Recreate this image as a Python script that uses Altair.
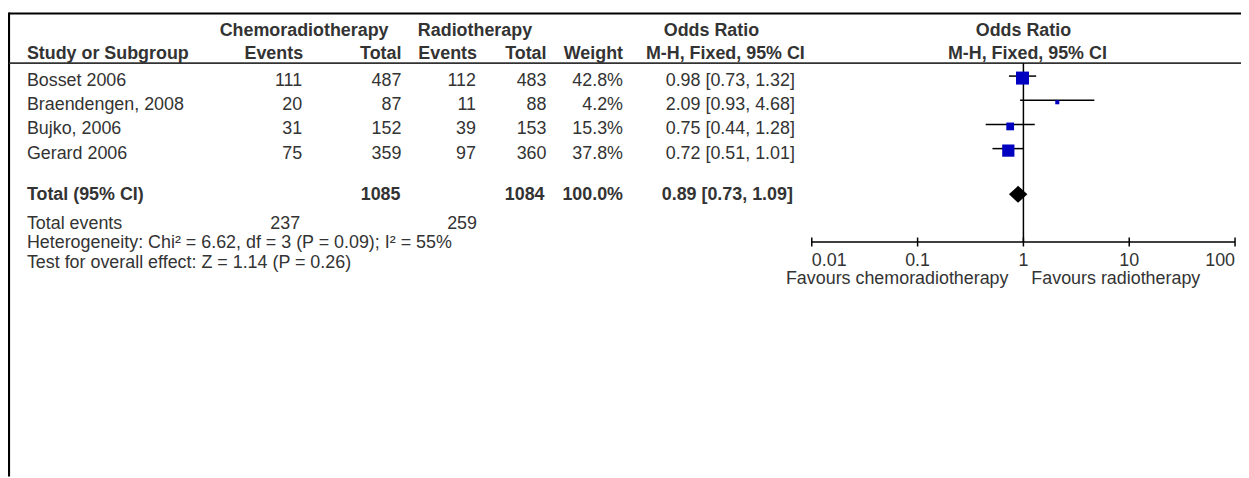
import altair as alt
import pandas as pd

# ---------------- data ----------------
studies = ["Bosset 2006", "Braendengen, 2008", "Bujko, 2006", "Gerard 2006"]
chemo_events = [111, 20, 31, 75]
chemo_total = [487, 87, 152, 359]
radio_events = [112, 11, 39, 97]
radio_total = [483, 88, 153, 360]
weights = [42.8, 4.2, 15.3, 37.8]
or_est = [0.98, 2.09, 0.75, 0.72]
ci_low = [0.73, 0.93, 0.44, 0.51]
ci_high = [1.32, 4.68, 1.28, 1.01]

total_label = "Total (95% CI)"
total_chemo = 1085
total_radio = 1084
total_weight = 100.0
total_or = 0.89
total_low = 0.73
total_high = 1.09
events_label = "Total events"
events_chemo = 237
events_radio = 259
heterogeneity = "Heterogeneity: Chi² = 6.62, df = 3 (P = 0.09); I² = 55%"
overall = "Test for overall effect: Z = 1.14 (P = 0.26)"

tick_values = [0.01, 0.1, 1, 10, 100]
tick_labels = ["0.01", "0.1", "1", "10", "100"]
favours_left = "Favours chemoradiotherapy"
favours_right = "Favours radiotherapy"

# ---------------- layout / style ----------------
W, H = 1241, 470
FONT = "Liberation Sans"
FS = 18
TXT = "#333333"
BLUE = "#0000C0"

df = pd.DataFrame({
    "study": studies,
    "ce": [str(v) for v in chemo_events],
    "ct": [str(v) for v in chemo_total],
    "re": [str(v) for v in radio_events],
    "rt": [str(v) for v in radio_total],
    "w": weights,
    "wtxt": [f"{v:.1f}%" for v in weights],
    "or": or_est,
    "lo": ci_low,
    "hi": ci_high,
    "ortxt": [f"{o:.2f} [{l:.2f}, {h:.2f}]" for o, l, h in zip(or_est, ci_low, ci_high)],
})

xs = alt.Scale(type="log", domain=[tick_values[0], tick_values[-1]], range=[809, 1235], nice=False)
ys = alt.Scale(type="point", domain=studies, range=[72, 145], padding=0)
y_row = alt.Y("study:N", scale=ys, axis=None)

one = pd.DataFrame({"k": [0]})


def row_text(field, x, align, **kw):
    return alt.Chart(df).mark_text(align=align, baseline="middle", font=FONT, fontSize=FS,
                                   color=TXT, **kw).encode(
        x=alt.value(x), y=y_row, text=f"{field}:N")


def const_text(text, x, y, align, bold=False):
    return alt.Chart(pd.DataFrame({"t": [text]})).mark_text(
        align=align, baseline="middle", font=FONT, fontSize=FS, color=TXT,
        fontWeight="bold" if bold else "normal").encode(
        x=alt.value(x), y=alt.value(y), text="t:N")


layers = []

# frame and header rule
layers.append(alt.Chart(one).mark_rule(color="black", strokeWidth=2.2).encode(
    x=alt.value(1), x2=alt.value(W), y=alt.value(4)))
layers.append(alt.Chart(one).mark_rule(color="black", strokeWidth=2.2).encode(
    x=alt.value(1), y=alt.value(3), y2=alt.value(H)))
layers.append(alt.Chart(one).mark_rule(color=TXT, strokeWidth=1.6).encode(
    x=alt.value(1), x2=alt.value(W), y=alt.value(54)))

# headers
layers += [
    const_text("Chemoradiotherapy", 298, 22, "center", True),
    const_text("Radiotherapy", 470, 22, "center", True),
    const_text("Odds Ratio", 708, 22, "center", True),
    const_text("Odds Ratio", 1022, 22, "center", True),
    const_text("Study or Subgroup", 19, 45, "left", True),
    const_text("Events", 297, 45, "right", True),
    const_text("Total", 396, 45, "right", True),
    const_text("Events", 472, 45, "right", True),
    const_text("Total", 542, 45, "right", True),
    const_text("Weight", 619, 45, "right", True),
    const_text("M-H, Fixed, 95% CI", 722, 45, "center", True),
    const_text("M-H, Fixed, 95% CI", 1026, 45, "center", True),
]

# study rows
layers += [
    row_text("study", 19, "left"),
    row_text("ce", 296, "right"),
    row_text("ct", 396, "right"),
    row_text("re", 471, "right"),
    row_text("rt", 542, "right"),
    row_text("wtxt", 619, "right"),
    row_text("ortxt", 792, "right"),
]

# total row
layers += [
    const_text(total_label, 19, 187, "left", True),
    const_text(str(total_chemo), 395, 187, "right", True),
    const_text(str(total_radio), 540, 187, "right", True),
    const_text(f"{total_weight:.1f}%", 619, 187, "right", True),
    const_text(f"{total_or:.2f} [{total_low:.2f}, {total_high:.2f}]", 790, 187, "right", True),
    const_text(events_label, 19, 216, "left"),
    const_text(str(events_chemo), 294, 216, "right"),
    const_text(str(events_radio), 472, 216, "right"),
    const_text(heterogeneity, 19, 235, "left"),
    const_text(overall, 19, 255, "left"),
]

# forest plot
layers.append(alt.Chart(pd.DataFrame({"v": [1]})).mark_rule(color="black", strokeWidth=1.5).encode(
    x=alt.X("v:Q", scale=xs, axis=None), y=alt.value(54), y2=alt.value(234)))
layers.append(alt.Chart(df).mark_rule(color="black", strokeWidth=1.5, yOffset=-5).encode(
    x=alt.X("lo:Q", scale=xs, axis=None), x2="hi:Q", y=y_row))
layers.append(alt.Chart(df).mark_square(color=BLUE, filled=True, opacity=1, yOffset=-3).encode(
    x=alt.X("or:Q", scale=xs, axis=None), y=y_row,
    size=alt.Size("w:Q", scale=alt.Scale(domain=[0, 100], range=[0, 400], zero=True), legend=None)))

diamond = pd.DataFrame({
    "x": [total_low, total_or, total_high],
    "top": [0, 1, 0],
    "bot": [0, -1, 0],
})
layers.append(alt.Chart(diamond).mark_area(color="black", opacity=1).encode(
    x=alt.X("x:Q", scale=xs, axis=None),
    y=alt.Y("top:Q", scale=alt.Scale(domain=[-1, 1], range=[194.5, 177.5], zero=False, nice=False), axis=None),
    y2="bot:Q"))

# axis
ticks = pd.DataFrame({"v": tick_values, "label": tick_labels, "i": list(range(len(tick_values)))})
layers.append(alt.Chart(pd.DataFrame({"a": [tick_values[0]], "b": [tick_values[-1]]})).mark_rule(
    color="black", strokeWidth=1.5).encode(
    x=alt.X("a:Q", scale=xs, axis=None), x2="b:Q", y=alt.value(234)))
layers.append(alt.Chart(ticks).mark_rule(color="black", strokeWidth=1.5).encode(
    x=alt.X("v:Q", scale=xs, axis=None), y=alt.value(229.5), y2=alt.value(238.5)))
n = len(tick_values)
for cond, align in [(f"datum.i == 0", "left"), (f"datum.i > 0 && datum.i < {n - 1}", "center"),
                    (f"datum.i == {n - 1}", "right")]:
    layers.append(alt.Chart(ticks).transform_filter(cond).mark_text(
        align=align, baseline="middle", font=FONT, fontSize=FS, color=TXT).encode(
        x=alt.X("v:Q", scale=xs, axis=None), y=alt.value(253), text="label:N"))

layers.append(alt.Chart(pd.DataFrame({"v": [1], "t": [favours_left]})).mark_text(
    align="right", baseline="middle", font=FONT, fontSize=FS, color=TXT, dx=-15).encode(
    x=alt.X("v:Q", scale=xs, axis=None), y=alt.value(271), text="t:N"))
layers.append(alt.Chart(pd.DataFrame({"v": [1], "t": [favours_right]})).mark_text(
    align="left", baseline="middle", font=FONT, fontSize=FS, color=TXT, dx=8).encode(
    x=alt.X("v:Q", scale=xs, axis=None), y=alt.value(271), text="t:N"))

chart = alt.layer(*layers).resolve_scale(y="independent").properties(
    width=W, height=H, padding=0, autosize="none", background="white"
).configure_view(stroke=None)

chart.save("out.html", embed_options={"renderer": "svg", "actions": False})
